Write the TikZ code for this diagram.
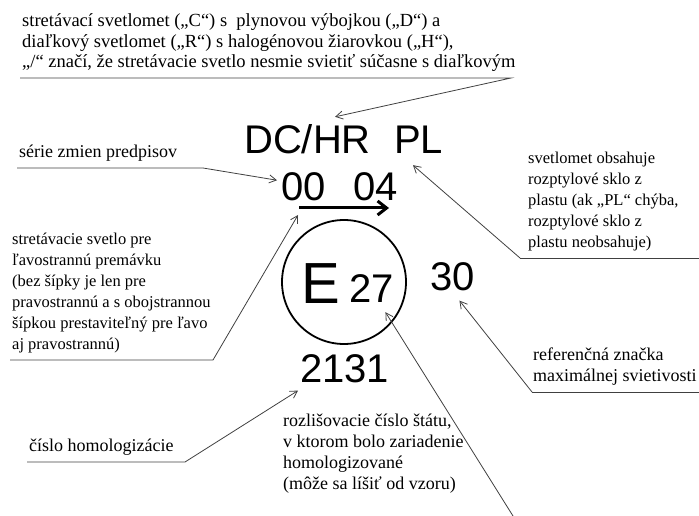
\documentclass[tikz,border=0pt]{standalone}
\usepackage{fontspec}
\setmainfont{Liberation Serif}
\newfontfamily\arialfont{Liberation Sans}
\usetikzlibrary{arrows.meta}
\newcommand\notesize{\rmfamily\fontsize{18bp}{21bp}\selectfont}
\newcommand\smallnotesize{\rmfamily\fontsize{16.5bp}{21bp}\selectfont}
\newcommand\marksize{\arialfont\fontsize{40bp}{40bp}\selectfont}
\begin{document}
\begin{tikzpicture}[x=1bp,y=-1bp,
  note/.style={font=\notesize, align=left, anchor=south west, inner ysep=0pt, inner xsep=2bp, text depth=10bp},
  symbol/.style={font=\marksize, inner sep=0pt, anchor=base west},
  callout/.style={draw=black!75, line width=0.8bp, -{Straight Barb[length=7bp,width=8bp]}}]

\useasboundingbox (0,0) rectangle (699,516);

\node[note, font=\rmfamily\fontsize{18.5bp}{20.5bp}\selectfont] (topnote) at (20,78) {stretávací svetlomet („C“) s~ plynovou výbojkou („D“) a\\diaľkový svetlomet („R“) s halogénovou žiarovkou („H“),\\„/“ značí, že stretávacie svetlo nesmie svietiť súčasne s diaľkovým};
\node[note] (serienote) at (17,168) {série zmien predpisov};
\node[note, font=\smallnotesize] (leftnote) at (10,360) {stretávacie svetlo pre\\ľavostrannú premávku\\(bez šípky je len pre\\pravostrannú a s obojstrannou\\šípkou prestaviteľný pre ľavo\\aj pravostrannú)};
\node[note] (homolnote) at (27,462) {číslo homologizácie};
\node[note, font=\smallnotesize, inner xsep=8bp] (plnote) at (520,258) {svetlomet obsahuje\\rozptylové sklo z\\plastu (ak „PL“ chýba,\\rozptylové sklo z\\plastu neobsahuje)};
\node[note, inner xsep=1bp] (refnote) at (532,392) {referenčná značka\\maximálnej svietivosti};
\node[note] (statenote) at (281,500) {rozlišovacie číslo štátu,\\v ktorom bolo zariadenie\\homologizované\\(môže sa líšiť od vzoru)};

\node[symbol] (dchr) at (244,154) {DC/HR};
\node[symbol] (pl) at (394,154) {PL};
\node[symbol] (zz) at (281,201) {00};
\node[symbol] (rev) at (353,201) {04};
\coordinate (arrL) at (299,208);
\coordinate (arrR) at (389,208);
\draw[line width=3bp, -{Straight Barb[length=9bp,width=14bp]}] (arrL) -- (arrR);
\node[draw, circle, line width=1.8bp, minimum size=124bp, inner sep=0pt] (ring) at (344,282) {};
\node[symbol, font=\arialfont\fontsize{58bp}{58bp}\selectfont] (e) at (301,303) {E};
\node[symbol] (st) at (349,302) {27};
\node[symbol] (ref) at (430,290) {30};
\node[symbol] (num) at (300,382) {2131};

\draw[callout] (topnote.south west) -- ++(491,0) -- ([shift={(-36bp,8bp)}]dchr.north east);
\draw[callout] (serienote.south west) -- ++(186,0) -- ([shift={(-4bp,7bp)}]zz.west);
\draw[callout] (leftnote.south west) -- ++(203,0) -- ([shift={(-1bp,-7bp)}]arrL);
\draw[callout] (homolnote.south west) -- ++(158,0) -- ([shift={(-2bp,-8bp)}]num.south west);
\draw[draw=black!75, line width=0.8bp] (plnote.south west) -- ++(179,0);
\draw[callout] (plnote.south west) -- ([shift={(19bp,-11bp)}]pl.south west);
\draw[draw=black!75, line width=0.8bp] (refnote.south west) -- ++(167,0);
\draw[callout] (refnote.south west) -- ([shift={(7bp,-10bp)}]ref.south);
\draw[callout] ([shift={(232bp,-16bp)}]statenote.south west) -- ([shift={(14bp,-10bp)}]st.south);
\end{tikzpicture}
\end{document}
